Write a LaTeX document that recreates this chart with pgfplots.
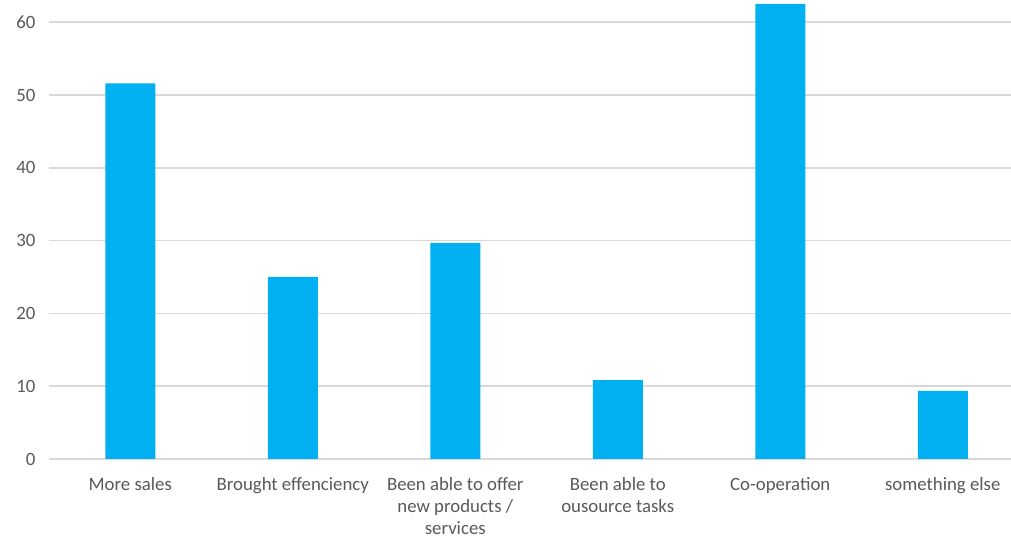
\documentclass[border=0pt]{standalone}
\usepackage{pgfplots}
\pgfplotsset{compat=1.18}
\usepackage{fontspec}
\setmainfont{Carlito}
\definecolor{barblue}{HTML}{00B0F0}
\definecolor{gridgray}{HTML}{D9D9D9}
\definecolor{labelgray}{HTML}{595959}
\begin{document}
\begin{tikzpicture}[x=1pt,y=1pt]
\path[use as bounding box] (-49,-78) rectangle (962,459);
\begin{axis}[
  at={(0,0)}, anchor=south west,
  scale only axis,
  width=962pt, height=459pt,
  xmin=-0.5, xmax=5.42,
  ymin=0, ymax=63.05,
  ytick={0,10,...,60},
  xtick={0,1,2,3,4,5},
  xticklabels={
    More sales,
    Brought effenciency,
    Been able to offer\\new products /\\services,
    Been able to\\ousource tasks,
    Co-operation,
    something else},
  axis line style={draw=none},
  major tick length=0pt,
  ymajorgrids,
  grid style={gridgray, line width=1.5pt},
  /pgf/number format/assume math mode=true,
  tick label style={labelgray, font=\fontsize{18.8}{22.2}\selectfont},
  yticklabel style={anchor=east, xshift=-10pt},
  xticklabel style={anchor=north, align=center, inner sep=0pt, yshift=-18pt},
  clip=false,
]
\addplot[ybar, bar width=50pt, fill=barblue, draw=none]
  coordinates {(0,51.6) (1,25.0) (2,29.7) (3,10.85) (4,62.5) (5,9.35)};
\end{axis}
\end{tikzpicture}
\end{document}
